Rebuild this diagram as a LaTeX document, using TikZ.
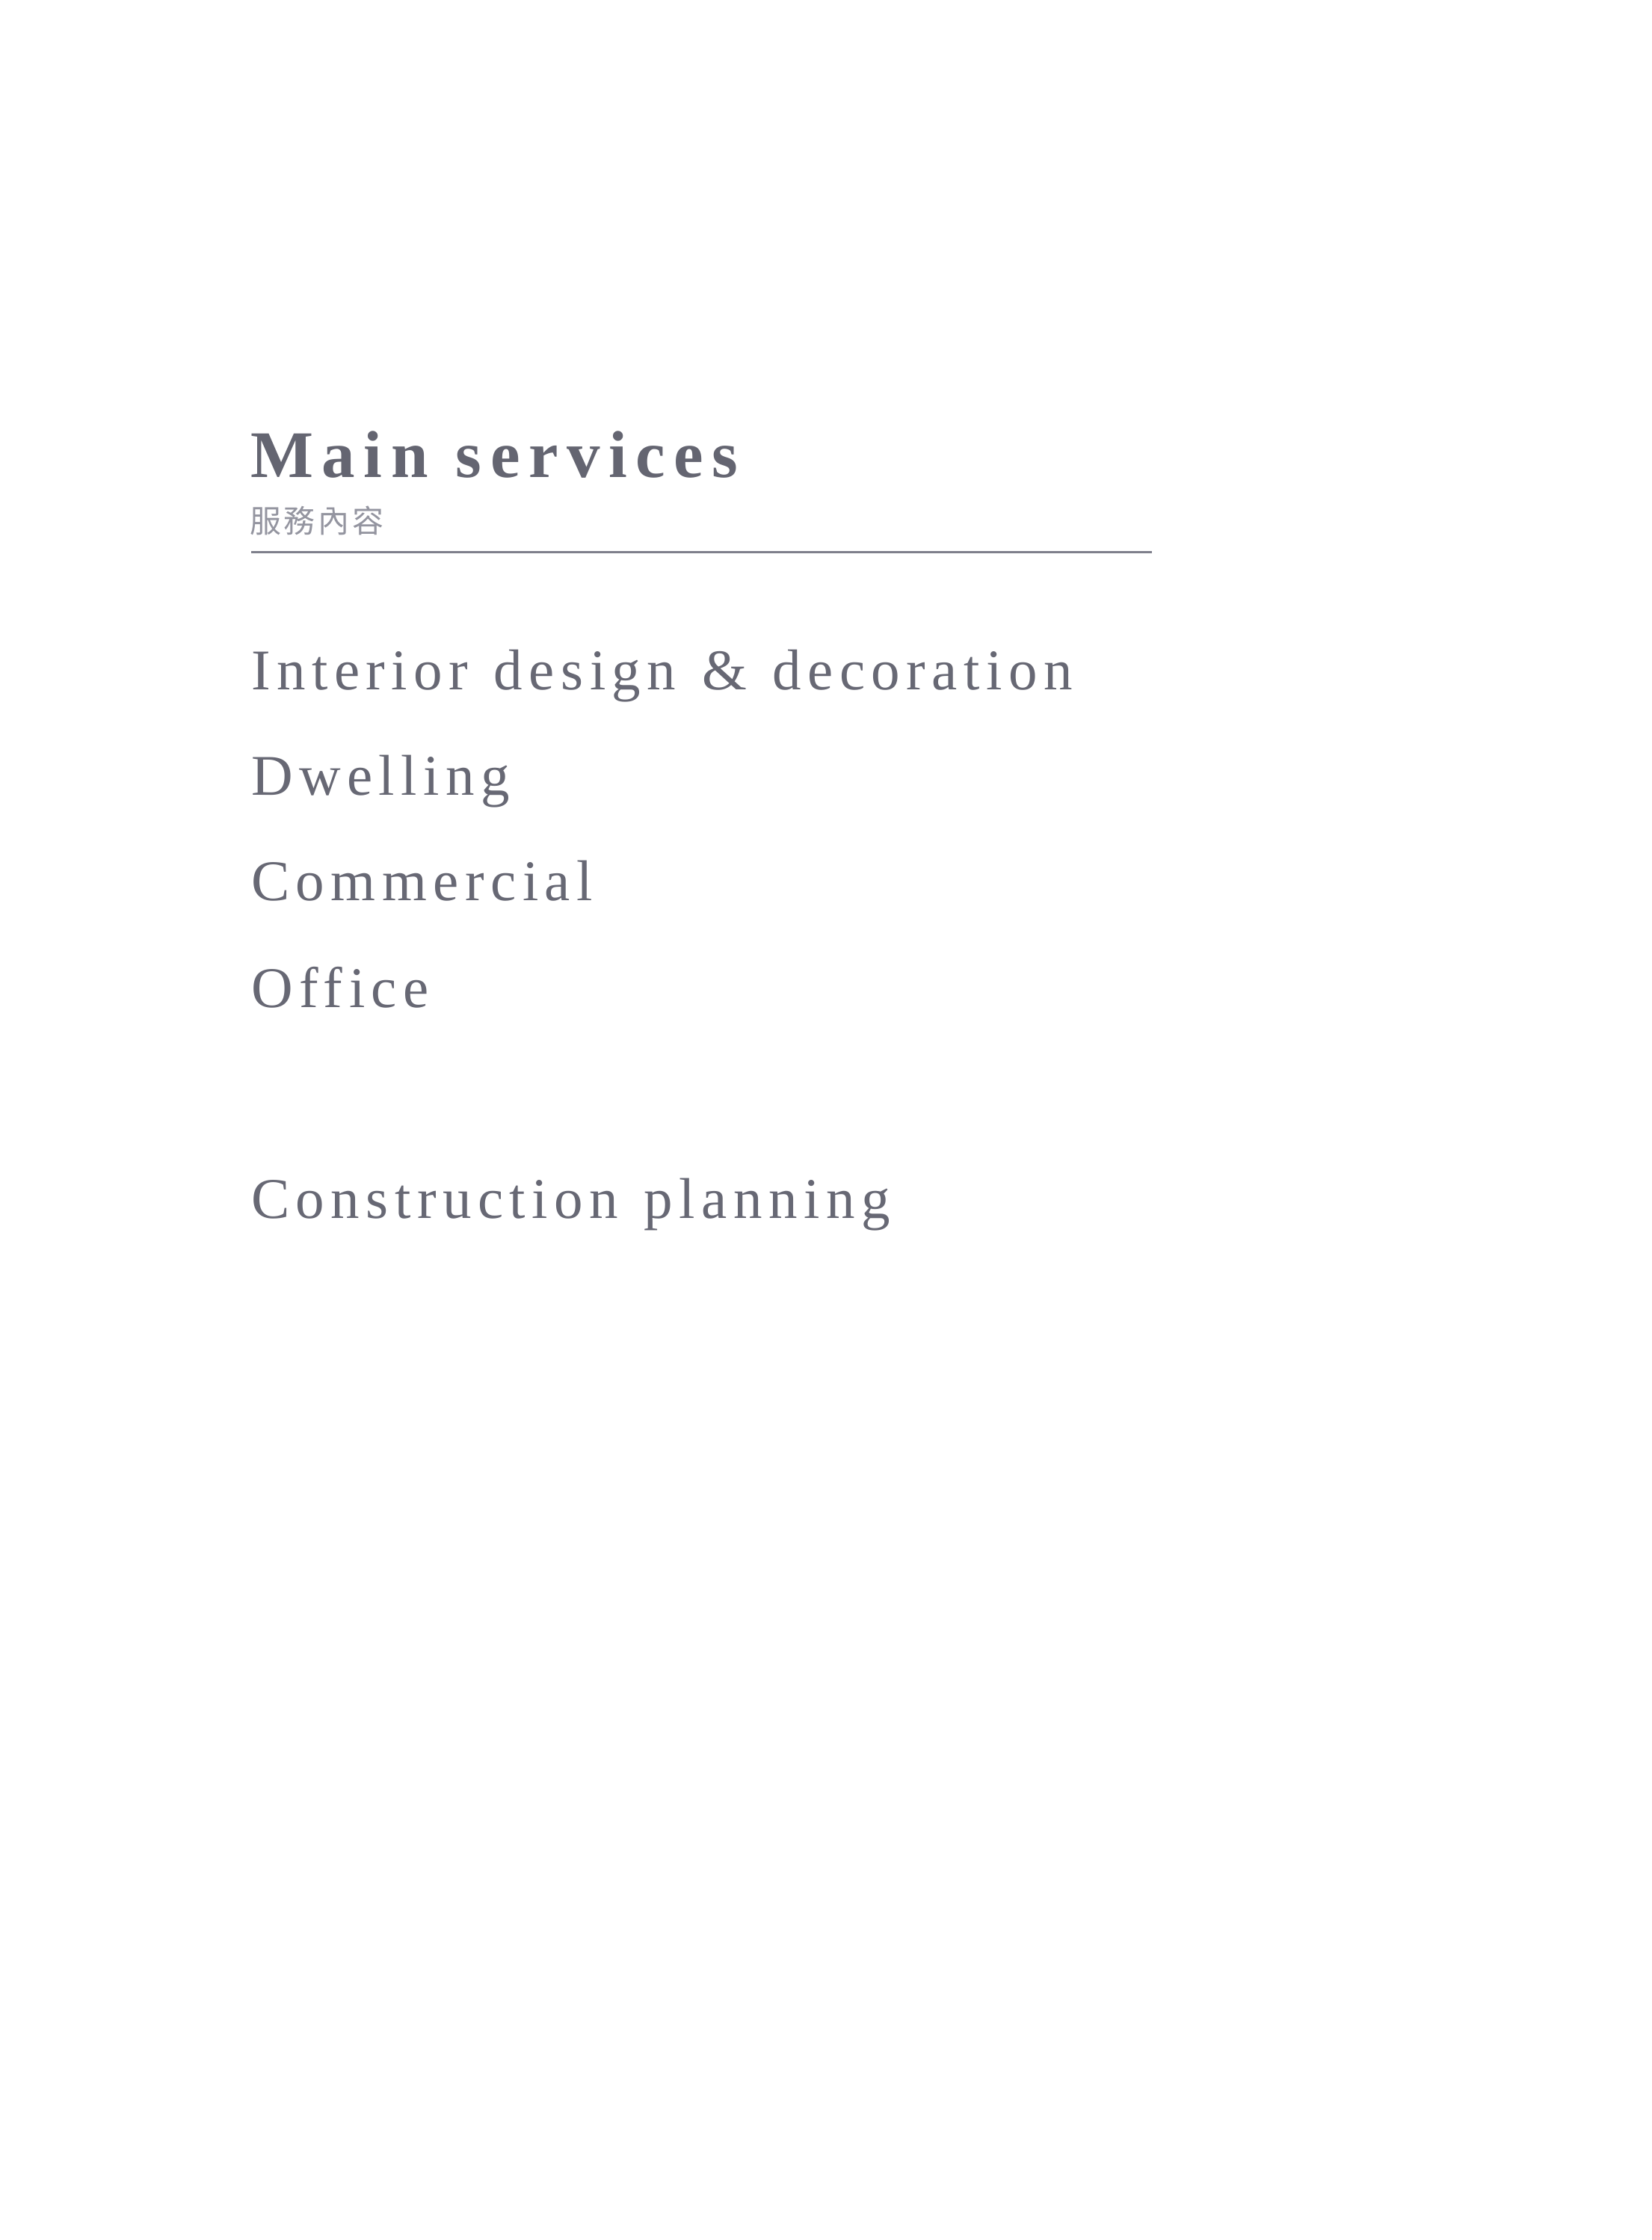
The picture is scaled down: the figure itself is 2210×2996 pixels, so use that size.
\documentclass[tikz,border=0pt]{standalone}
\usepackage{fontspec}
\newfontfamily\titlefont{Liberation Serif}[LetterSpace=13,WordSpace=1.1]
\newfontfamily\bodyfont{Liberation Serif}[LetterSpace=11,WordSpace=1.25]
\newfontfamily\cjkfont{Noto Sans CJK TC}[LetterSpace=9]
\definecolor{titlegray}{HTML}{646571}
\definecolor{bodygray}{HTML}{676874}
\definecolor{cjkgray}{HTML}{9495A0}
\definecolor{rulegray}{HTML}{7E7F8B}
\begin{document}
\begin{tikzpicture}[x=1pt,y=-1pt,
  titletext/.style={anchor=base west,inner sep=0pt,text=titlegray,font=\titlefont\bfseries\fontsize{89}{100}\selectfont},
  subtext/.style={anchor=base west,inner sep=0pt,text=cjkgray,font=\cjkfont\fontsize{42}{50}\selectfont},
  itemtext/.style={anchor=base west,inner sep=0pt,text=bodygray,font=\bodyfont\fontsize{77}{90}\selectfont},
  rulestyle/.style={draw=rulegray,line width=3pt}]
\fill[white] (0,0) rectangle (2210,2996);
\useasboundingbox (0,0) rectangle (2210,2996);
\node[titletext] (title) at (335,638) {Main services};
\node[subtext] (sub) at (334,712) {服務內容};
\coordinate (ruleL) at (336,738);
\coordinate (ruleR) at (1541,738);
\draw[rulestyle] (ruleL) -- (ruleR);
\node[itemtext] (i1) at (336,922) {Interior design \& decoration};
\node[itemtext] (i2) at (336,1063) {Dwelling};
\node[itemtext] (i3) at (336,1204) {Commercial};
\node[itemtext] (i4) at (336,1347) {Office};
\node[itemtext] (i5) at (336,1629) {Construction planning};
\end{tikzpicture}
\end{document}
